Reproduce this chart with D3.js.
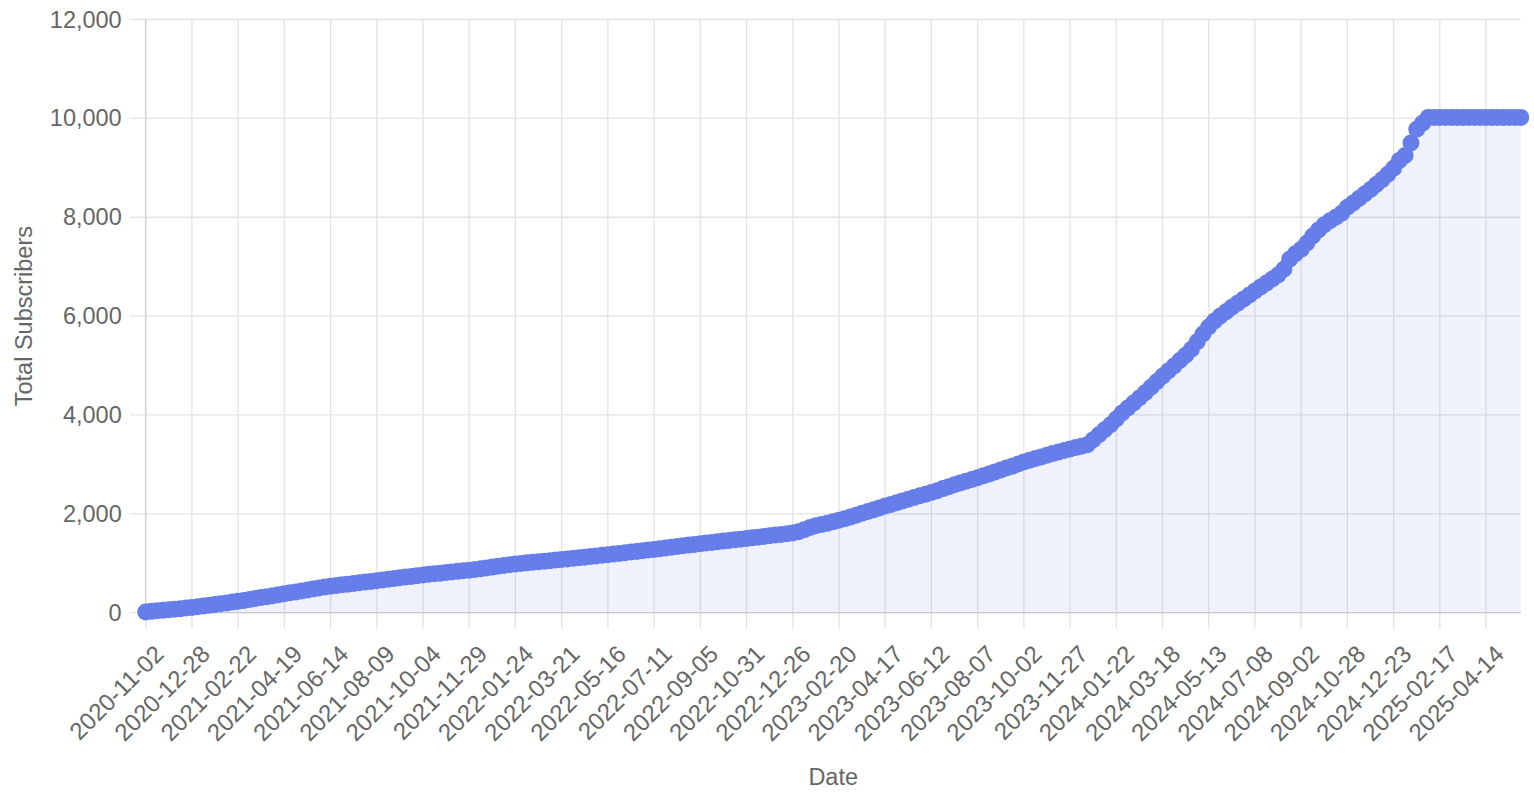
<!DOCTYPE html>
<html>
<head>
<meta charset="utf-8">
<script src="https://cdn.jsdelivr.net/npm/d3@7"></script>
<style>
  body { margin: 0; background: #fff; }
  svg { display: block; font-family: "Liberation Sans", Arial, Helvetica, sans-serif; }
</style>
</head>
<body>
<script>
// weekly totals, first week 2020-11-02
const startDate = '2020-11-02';
const subscribers = [
  15, 27, 38, 48, 58, 70, 81, 93, 105, 119, 134, 150, 165, 182, 198, 214,
  231, 249, 268, 287, 306, 325, 344, 364, 383, 402, 421, 440, 460, 479, 498, 518,
  537, 551, 565, 578, 592, 605, 619, 632, 646, 661, 675, 690, 705, 720, 734, 749,
  764, 776, 788, 800, 812, 824, 836, 848, 860, 875, 891, 906, 922, 938, 953, 969,
  985, 996, 1008, 1019, 1030, 1041, 1053, 1064, 1075, 1087, 1099, 1111, 1123, 1136, 1148, 1160,
  1172, 1186, 1199, 1213, 1227, 1240, 1254, 1267, 1281, 1295, 1310, 1324, 1339, 1353, 1367, 1382,
  1396, 1409, 1422, 1435, 1448, 1461, 1474, 1487, 1500, 1514, 1528, 1542, 1556, 1570, 1584, 1598,
  1612, 1640, 1680, 1725, 1760, 1785, 1810, 1840, 1869, 1900, 1935, 1972, 2010, 2048, 2085, 2120,
  2158, 2190, 2225, 2262, 2295, 2330, 2365, 2398, 2430, 2468, 2510, 2550, 2588, 2625, 2660, 2695,
  2730, 2768, 2805, 2845, 2885, 2925, 2965, 3008, 3050, 3085, 3120, 3152, 3185, 3218, 3250, 3282,
  3312, 3340, 3365, 3400, 3500, 3600, 3700, 3800, 3920, 4040, 4140, 4240, 4345, 4450, 4560, 4670,
  4783, 4890, 4990, 5100, 5207, 5330, 5480, 5640, 5780, 5900, 6000, 6090, 6180, 6260, 6340, 6420,
  6506, 6590, 6670, 6750, 6830, 6950, 7150, 7260, 7351, 7480, 7620, 7740, 7850, 7930, 8000, 8080,
  8200, 8290, 8380, 8470, 8560, 8660, 8760, 8870, 8989, 9150, 9250, 9500, 9780, 9900, 10020, 10020,
  10020, 10020, 10020, 10020, 10020, 10020, 10020, 10020, 10020, 10020, 10020, 10020, 10020, 10020, 10020
];
const tickLabels = [
  '2020-11-02', '2020-12-28', '2021-02-22', '2021-04-19', '2021-06-14', '2021-08-09',
  '2021-10-04', '2021-11-29', '2022-01-24', '2022-03-21', '2022-05-16', '2022-07-11',
  '2022-09-05', '2022-10-31', '2022-12-26', '2023-02-20', '2023-04-17', '2023-06-12',
  '2023-08-07', '2023-10-02', '2023-11-27', '2024-01-22', '2024-03-18', '2024-05-13',
  '2024-07-08', '2024-09-02', '2024-10-28', '2024-12-23', '2025-02-17', '2025-04-14'
];
const yTicks = [0, 2000, 4000, 6000, 8000, 10000, 12000];

const fmtDay = d3.utcFormat('%Y-%m-%d');
const start = d3.utcParse('%Y-%m-%d')(startDate);
const categories = subscribers.map((_, i) => fmtDay(d3.utcDay.offset(start, 7 * i)));
const data = categories.map((c, i) => ({ date: c, value: subscribers[i] }));

const W = 1534, H = 800;
const margin = { top: 19.5, right: 13.3, bottom: 187.3, left: 145.7 };
const width = W - margin.left - margin.right;
const height = H - margin.top - margin.bottom;
const textColor = '#666';
const fontSize = 23.5;
const mainColor = '#667eea';

const svg = d3.select('body').append('svg')
  .attr('width', W)
  .attr('height', H);

const g = svg.append('g')
  .attr('transform', `translate(${margin.left},${margin.top})`);

const x = d3.scalePoint()
  .domain(categories)
  .range([0, width]);

const y = d3.scaleLinear()
  .domain([0, 12000])
  .range([height, 0]);

// grid
g.append('g')
  .selectAll('line')
  .data(tickLabels)
  .enter()
  .append('line')
  .attr('x1', d => x(d))
  .attr('x2', d => x(d))
  .attr('y1', 0)
  .attr('y2', height + 16)
  .attr('stroke', '#e3e3e3')
  .attr('stroke-width', 1.3);

g.append('g')
  .selectAll('line')
  .data(yTicks)
  .enter()
  .append('line')
  .attr('x1', -16)
  .attr('x2', width)
  .attr('y1', d => y(d))
  .attr('y2', d => y(d))
  .attr('stroke', '#e3e3e3')
  .attr('stroke-width', 1.3);

// axis borders
g.append('line')
  .attr('x1', 0).attr('x2', 0)
  .attr('y1', 0).attr('y2', height)
  .attr('stroke', '#cfcfcf')
  .attr('stroke-width', 1.3);

g.append('line')
  .attr('x1', 0).attr('x2', width)
  .attr('y1', height).attr('y2', height)
  .attr('stroke', '#cfcfcf')
  .attr('stroke-width', 1.3);

// area + line
const area = d3.area()
  .x(d => x(d.date))
  .y0(height)
  .y1(d => y(d.value))
  .curve(d3.curveMonotoneX);

const line = d3.line()
  .x(d => x(d.date))
  .y(d => y(d.value))
  .curve(d3.curveMonotoneX);

g.append('path')
  .datum(data)
  .attr('fill', 'rgba(102, 126, 234, 0.1)')
  .attr('d', area);

g.append('path')
  .datum(data)
  .attr('fill', 'none')
  .attr('stroke', mainColor)
  .attr('stroke-width', 3)
  .attr('d', line);

g.append('g')
  .selectAll('circle')
  .data(data)
  .enter()
  .append('circle')
  .attr('cx', d => x(d.date))
  .attr('cy', d => y(d.value))
  .attr('r', 7.5)
  .attr('fill', mainColor)
  .attr('stroke', mainColor)
  .attr('stroke-width', 2);

// axes (labels only, lines drawn above)
const yAxis = d3.axisLeft(y)
  .tickValues(yTicks)
  .tickSize(0)
  .tickPadding(24)
  .tickFormat(d3.format(','));

const yg = g.append('g').call(yAxis);
yg.select('.domain').remove();
yg.selectAll('text')
  .attr('fill', textColor)
  .style('font-size', fontSize + 'px')
  .style('font-family', '"Liberation Sans", Arial, sans-serif');

const xAxis = d3.axisBottom(x)
  .tickValues(tickLabels)
  .tickSize(0)
  .tickPadding(0);

const xg = g.append('g')
  .attr('transform', `translate(0,${height})`)
  .call(xAxis);
xg.select('.domain').remove();
xg.selectAll('text')
  .attr('fill', textColor)
  .style('font-size', '24px')
  .style('font-family', '"Liberation Sans", Arial, sans-serif')
  .attr('text-anchor', 'end')
  .attr('dy', '0.35em')
  .attr('y', 0)
  .attr('transform', 'translate(13,37) rotate(-45)');

// axis titles
svg.append('text')
  .attr('x', margin.left + width / 2)
  .attr('y', 785)
  .attr('text-anchor', 'middle')
  .attr('fill', textColor)
  .style('font-size', fontSize + 'px')
  .text('Date');

svg.append('text')
  .attr('transform', `translate(32,${margin.top + height / 2}) rotate(-90)`)
  .attr('text-anchor', 'middle')
  .attr('fill', textColor)
  .style('font-size', fontSize + 'px')
  .text('Total Subscribers');
</script>
</body>
</html>
